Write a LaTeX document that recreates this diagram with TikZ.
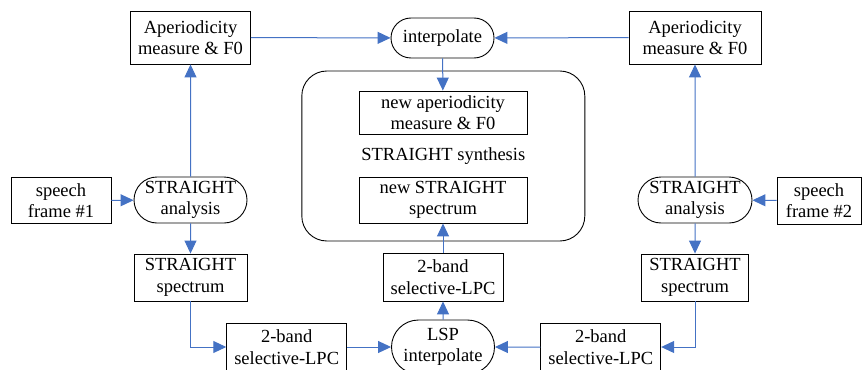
\documentclass[tikz,border=0pt]{standalone}
\usepackage{fontspec}
\setmainfont{Liberation Serif}
\usetikzlibrary{arrows.meta,shapes.misc}
\definecolor{flowblue}{RGB}{68,114,196}

\begin{document}
\begin{tikzpicture}[x=1pt,y=-1pt,
  box/.style={draw,line width=0.9pt,align=center,inner sep=0pt,font=\fontsize{18.5}{21.5}\selectfont},
  pill/.style={box,rounded rectangle},
  flow/.style={-{Triangle[length=13pt,width=12pt]},flowblue,line width=1pt}]
\useasboundingbox (0,0) rectangle (866,369);

%synthesis block
\node[box,rounded corners=25pt,minimum width=283pt,minimum height=170pt] (synth) at (443.3,156) {STRAIGHT synthesis};
\node[box,minimum width=168pt,minimum height=43pt] (newAper) at (443,112.5) {new aperiodicity\\measure \& F0};
\node[box,minimum width=168pt,minimum height=46pt] (newSpec) at (443,200) {new STRAIGHT\\spectrum};
\node[pill,minimum width=103pt,minimum height=40pt] (interp) at (442.5,38) {interpolate};
\node[box,minimum width=120pt,minimum height=48pt] (lpcM) at (443,277) {2-band\\selective-LPC};
\node[pill,minimum width=103pt,minimum height=54pt] (lsp) at (443,347) {LSP\\interpolate};

%frame 1
\node[box,minimum width=100pt,minimum height=46pt] (frameA) at (61,200.5) {speech\\frame \#1};
\node[pill,minimum width=113pt,minimum height=46pt] (anaA) at (190.5,200) {STRAIGHT\\analysis};
\node[box,minimum width=120pt,minimum height=53pt] (aperA) at (190.5,37.5) {Aperiodicity\\measure \& F0};
\node[box,minimum width=113pt,minimum height=47pt] (specA) at (190.5,277.5) {STRAIGHT\\spectrum};
\node[box,minimum width=120pt,minimum height=47pt] (lpcA) at (286.7,347) {2-band\\selective-LPC};

%frame 2
\node[box,minimum width=84pt,minimum height=47pt] (frameB) at (819,200.5) {speech\\frame \#2};
\node[pill,minimum width=114pt,minimum height=46pt] (anaB) at (695,200) {STRAIGHT\\analysis};
\node[box,minimum width=132pt,minimum height=53pt] (aperB) at (695,37.5) {Aperiodicity\\measure \& F0};
\node[box,minimum width=107pt,minimum height=47pt] (specB) at (695,277.5) {STRAIGHT\\spectrum};
\node[box,minimum width=120pt,minimum height=47pt] (lpcB) at (600.7,347) {2-band\\selective-LPC};

%arrows
\draw[flow] (frameA) -- (anaA);
\draw[flow] (anaA) -- (aperA);
\draw[flow] (anaA) -- (specA);
\draw[flow] (specA.south) |- (lpcA.west);
\draw[flow] (lpcA) -- (lsp);
\draw[flow] (aperA) -- (interp);
\draw[flow] (frameB) -- (anaB);
\draw[flow] (anaB) -- (aperB);
\draw[flow] (anaB) -- (specB);
\draw[flow] (specB.south) |- (lpcB.east);
\draw[flow] (lpcB) -- (lsp);
\draw[flow] (aperB) -- (interp);
\draw[flow] (interp) -- (newAper);
\draw[flow] (lsp) -- (lpcM);
\draw[flow] (lpcM) -- (newSpec);
\end{tikzpicture}
\end{document}
